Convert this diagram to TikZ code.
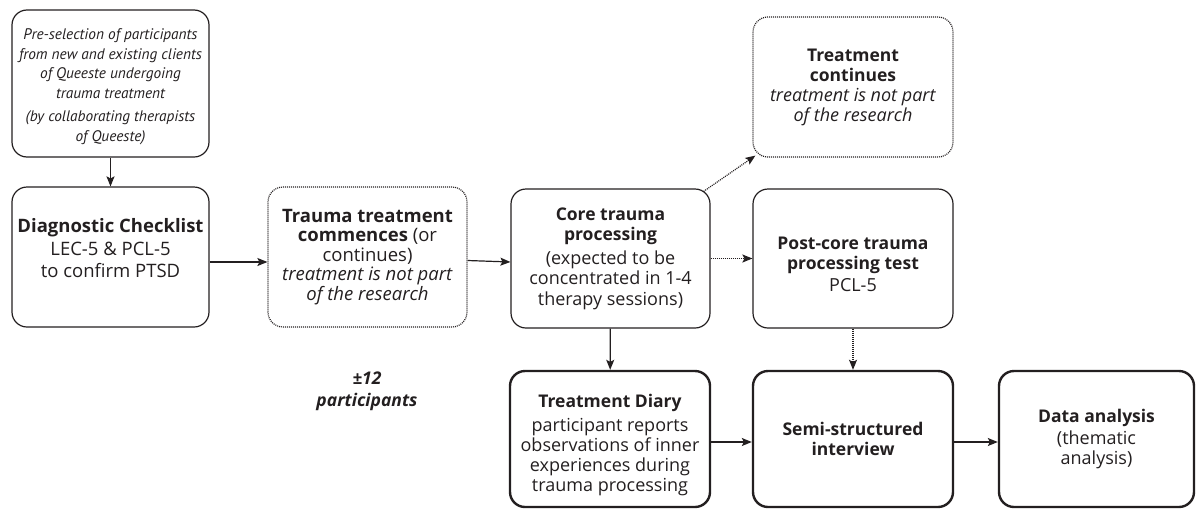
\documentclass[tikz,border=0pt]{standalone}
\usepackage{fontspec}
\setmainfont{Open Sans}
\newfontfamily\narrowfont{PT Sans}
\usetikzlibrary{arrows.meta}
\definecolor{ink}{HTML}{231F20}
% bold heading lines inside the boxes
\newcommand\hb[1]{{\fontsize{17.5}{20}\selectfont\bfseries #1}}
\begin{document}
\begin{tikzpicture}[x=1pt,y=-1pt,
  every node/.style={text=ink},
  box/.style={draw=ink, line width=1.2pt, rounded corners=15pt, align=center,
    inner sep=0pt, font=\fontsize{18}{20}\selectfont},
  thinbox/.style={box},
  dotbox/.style={box, dash pattern=on 1pt off 1pt},
  thickbox/.style={box, line width=2.4pt},
  arr/.style={draw=ink, line width=1.2pt, -{Stealth[length=10pt,width=8pt,inset=2pt]}},
  dotarr/.style={arr, dash pattern=on 1pt off 1pt},
]
\useasboundingbox (0,0) rectangle (1196,509);

% top-left selection step
\node[thinbox, minimum width=197pt, minimum height=147pt,
  font=\narrowfont\fontsize{15.3}{19.5}\selectfont\itshape] (pre) at (110.5,83.5)
  {\rule{0pt}{17pt}Pre-selection of participants\\from new and existing clients\\of Queeste undergoing\\trauma treatment\\[4pt](by collaborating therapists\\of Queeste)};

% main row
\node[thinbox, minimum width=197pt, minimum height=140pt,
  font=\fontsize{18.5}{21}\selectfont] (diag) at (110.5,257)
  {\textbf{Diagnostic Checklist}\\[2pt]LEC-5 \& PCL-5\\[1pt]to confirm PTSD\rule[-18pt]{0pt}{18pt}};

\node[dotbox, minimum width=199pt, minimum height=140pt,
  font=\fontsize{18.5}{19.5}\selectfont] (comm) at (367.5,257)
  {\textbf{Trauma treatment}\\\textbf{commences} (or\\continues)\\\textit{treatment is not part}\\\textit{of the research}};

\node[thinbox, minimum width=199pt, minimum height=139pt,
  font=\fontsize{18}{20.5}\selectfont] (core) at (610.5,258.5)
  {\hb{Core trauma}\\\hb{processing}\\[3pt](expected to be\\concentrated in 1-4\\therapy sessions)};

\node[thinbox, minimum width=200pt, minimum height=139pt] (post) at (853,258.5)
  {\rule{0pt}{24pt}\hb{Post-core trauma}\\\hb{processing test}\\[2pt]PCL-5};

\node[dotbox, minimum width=200pt, minimum height=140pt] (cont) at (853,87)
  {\hb{Treatment}\\\hb{continues}\\\textit{treatment is not part}\\\textit{of the research}};

% bottom row
\node[thickbox, minimum width=200pt, minimum height=136pt] (diary) at (610,439)
  {\rule{0pt}{24.5pt}\hb{Treatment Diary}\\[4pt]participant reports\\observations of inner\\experiences during\\trauma processing};

\node[thickbox, minimum width=200pt, minimum height=136pt] (interview) at (853,439)
  {\hb{Semi-structured}\\\hb{interview}};

\node[thickbox, minimum width=195pt, minimum height=136pt] (analysis) at (1096.5,439)
  {\hb{Data analysis}\\[2pt](thematic\\analysis)};

\node[align=center, font=\fontsize{17.5}{22}\selectfont\bfseries\itshape] (count) at (367,391)
  {±12\\participants};

% connectors
\draw[arr] (pre) -- (diag);
\draw[arr] ([yshift=-5pt]diag.east) -- ([yshift=-5pt]comm.west);
\draw[arr] ([yshift=-3.5pt]comm.east) -- ([yshift=-3.5pt]core.west);
\draw[dotarr] (core) -- (post);
\draw[dotarr] ([xshift=-7pt,yshift=-3pt]core.north east) -- ([xshift=3pt,yshift=2pt]cont.south west);
\draw[arr] (core) -- (diary);
\draw[dotarr] (post) -- (interview);
\draw[arr] ([yshift=-3pt]diary.east) -- ([yshift=-3pt]interview.west);
\draw[arr] ([yshift=-3pt]interview.east) -- ([yshift=-3pt]analysis.west);
\end{tikzpicture}
\end{document}
